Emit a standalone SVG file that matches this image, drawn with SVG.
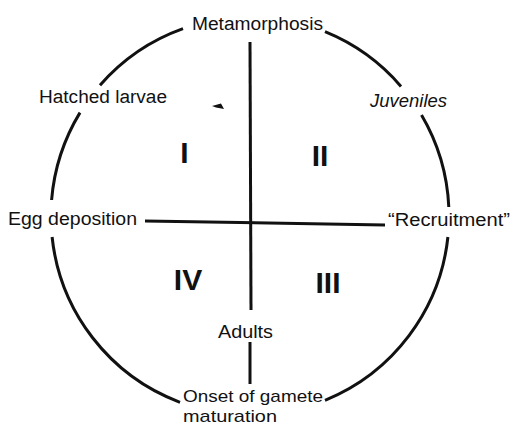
<svg xmlns="http://www.w3.org/2000/svg" width="531" height="425" viewBox="0 0 531 425">
<style>
.lbl{font-family:"Liberation Sans",Arial,sans-serif;font-size:18px;fill:#111}
.sm{font-size:17px}
.num{font-family:"Liberation Sans",Arial,sans-serif;font-size:30px;font-weight:bold;fill:#111;text-anchor:middle}
.ln{fill:none;stroke:#111;stroke-width:3;stroke-linecap:butt}
</style>
<rect width="531" height="425" fill="#fff"/>
<g id="connectors">
<path class="ln" d="M100,85.2 A199,199 0 0 1 183,28.6"/>
<path class="ln" d="M325,31.7 A199,199 0 0 1 401,86.4"/>
<path class="ln" d="M421.5,115 A199,199 0 0 1 448.8,207"/>
<path class="ln" d="M447.9,237 A199,199 0 0 1 325,400.3"/>
<path class="ln" d="M180,402.3 A199,199 0 0 1 52.1,237"/>
<path class="ln" d="M51.6,200 A199,199 0 0 1 80,112.6"/>
<path class="ln" d="M250,42 L251,310"/>
<path class="ln" d="M250,342 L250,384"/>
<path class="ln" d="M145,221 L385,225"/>
<path d="M212,106 L221,103.5 L224,109 L216,107.5 Z" fill="#111"/>
</g>
<g id="metamorphosis"><text class="lbl" x="192" y="30" textLength="131" lengthAdjust="spacingAndGlyphs">Metamorphosis</text></g>
<g id="hatched-larvae"><text class="lbl" x="39" y="103" textLength="128" lengthAdjust="spacingAndGlyphs">Hatched larvae</text></g>
<g id="juveniles"><text class="lbl" x="370" y="107" textLength="77" lengthAdjust="spacingAndGlyphs" font-style="italic">Juveniles</text></g>
<g id="egg-deposition"><text class="lbl" x="8" y="225" textLength="129" lengthAdjust="spacingAndGlyphs">Egg deposition</text></g>
<g id="recruitment"><text class="lbl" x="388" y="226" textLength="122" lengthAdjust="spacingAndGlyphs">“Recruitment”</text></g>
<g id="adults"><text class="lbl" x="218" y="338" textLength="55" lengthAdjust="spacingAndGlyphs">Adults</text></g>
<g id="onset"><text class="lbl sm" x="183" y="401.5" textLength="140" lengthAdjust="spacingAndGlyphs">Onset of gamete</text><text class="lbl sm" x="183" y="421.5" textLength="94" lengthAdjust="spacingAndGlyphs">maturation</text></g>
<g id="q1"><text class="num" x="184.5" y="163">I</text></g>
<g id="q2"><text class="num" x="320" y="166">II</text></g>
<g id="q3"><text class="num" x="328" y="293">III</text></g>
<g id="q4"><text class="num" x="188" y="290">IV</text></g>
</svg>
